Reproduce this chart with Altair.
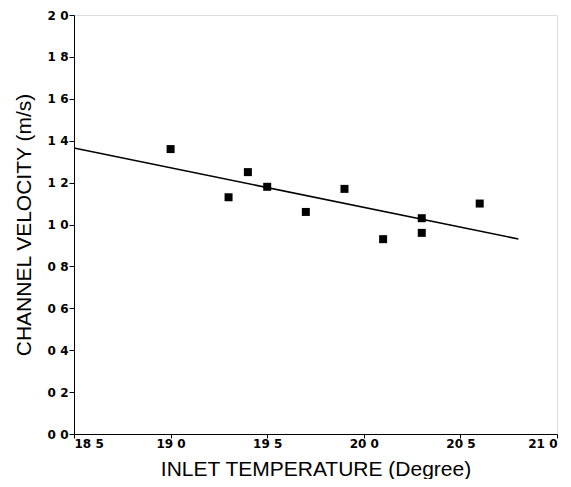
import altair as alt
import pandas as pd

temp = [19.0, 19.3, 19.4, 19.5, 19.7, 19.9, 20.1, 20.3, 20.3, 20.6]
velocity = [1.36, 1.13, 1.25, 1.18, 1.06, 1.17, 0.93, 1.03, 0.96, 1.10]

fit_x = [18.5, 20.8]
fit_y = [1.365, 0.931]

x_ticks = [18.5, 19.0, 19.5, 20.0, 20.5, 21.0]
y_ticks = [0.0, 0.2, 0.4, 0.6, 0.8, 1.0, 1.2, 1.4, 1.6, 1.8, 2.0]

pts = pd.DataFrame({"t": temp, "v": velocity})
fit = pd.DataFrame({"t": fit_x, "v": fit_y})

TITLE_FONT = "Liberation Sans"
LABEL_FONT = "DejaVu Sans"
label_expr = "replace(format(datum.value, '.1f'), '.', ' ')"

x_enc = alt.X(
    "t:Q",
    scale=alt.Scale(domain=[18.5, 21.0], nice=False, zero=False),
    axis=alt.Axis(
        title="INLET TEMPERATURE (Degree)",
        values=x_ticks,
        labelExpr=label_expr,
        grid=False,
        tickSize=4,
        tickColor="black",
        domainColor="black",
        labelColor="black",
        labelFont=LABEL_FONT,
        labelFontSize=12,
        labelFontWeight="bold",
        labelPadding=0,
        titleFont=TITLE_FONT,
        titleFontSize=21,
        titleFontWeight="normal",
        titleColor="black",
        titlePadding=9,
    ),
)
y_enc = alt.Y(
    "v:Q",
    scale=alt.Scale(domain=[0, 2.0], nice=False),
    axis=alt.Axis(
        title="CHANNEL VELOCITY (m/s)",
        values=y_ticks,
        labelExpr=label_expr,
        grid=False,
        tickSize=5,
        tickColor="black",
        domainColor="black",
        labelColor="black",
        labelFont=LABEL_FONT,
        labelFontSize=12,
        labelFontWeight="bold",
        labelPadding=1,
        titleFont=TITLE_FONT,
        titleFontSize=21,
        titleFontWeight="normal",
        titleColor="black",
        titlePadding=13,
    ),
)

line = alt.Chart(fit).mark_line(color="black", strokeWidth=1.6).encode(x=x_enc, y=y_enc)
points = alt.Chart(pts).mark_square(color="black", size=64, opacity=1).encode(x=x_enc, y=y_enc)

chart = (
    alt.layer(line, points)
    .properties(
        width=483,
        height=419,
        autosize=alt.AutoSizeParams(type="none"),
        padding={"left": 66, "top": 7, "right": 6, "bottom": 45},
    )
    .configure_view(stroke="black", strokeWidth=1.5)
    .configure(background="white")
)

chart.save("out.html", embed_options={"renderer": "svg", "actions": False})
